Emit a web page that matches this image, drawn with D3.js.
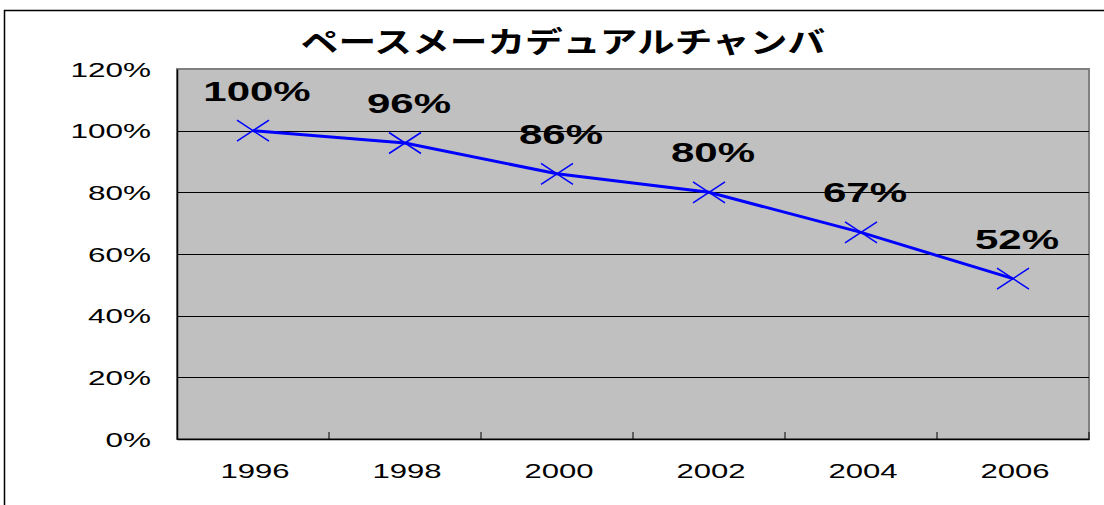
<!DOCTYPE html>
<html><head><meta charset="utf-8">
<script src="https://cdn.jsdelivr.net/npm/d3@7"></script>
<style>body{margin:0;background:#fff}svg{display:block}</style>
</head><body>
<script>
const title = "ペースメーカデュアルチャンバ";
const years = ["1996","1998","2000","2002","2004","2006"];
const values = [100, 96, 86, 80, 67, 52];
const yTicks = [0, 20, 40, 60, 80, 100, 120];

const W = 1104, H = 505;
const m = {left: 177, top: 69, right: 1089, bottom: 439};
const svg = d3.select("body").append("svg").attr("width", W).attr("height", H);
const FONT = "Liberation Sans, Arial, sans-serif";

function stext(g, x, y, str, opts) {
  return g.append("text")
    .attr("transform", `translate(${x},${y}) scale(${opts.sx},1)`)
    .attr("text-anchor", opts.anchor || "middle")
    .attr("font-family", opts.family || FONT)
    .attr("font-weight", opts.weight || "normal")
    .attr("font-size", opts.size)
    .attr("fill", "#000")
    .text(str);
}

// outer frame
svg.append("rect").attr("x", 4.5).attr("y", 10.5).attr("width", 1200).attr("height", 600)
  .attr("fill", "#fff").attr("stroke", "#000").attr("stroke-width", 1.5);

const x = d3.scaleBand().domain(years).range([m.left, m.right]);
const y = d3.scaleLinear().domain([0, 120]).range([m.bottom, m.top]);

// plot area
svg.append("rect").attr("x", m.left).attr("y", m.top).attr("width", m.right - m.left).attr("height", m.bottom - m.top)
  .attr("fill", "#c0c0c0").attr("stroke", "#808080").attr("stroke-width", 2);

// gridlines
svg.append("g").selectAll("line").data(yTicks.filter(d => d > 0 && d < 120)).join("line")
  .attr("x1", m.left).attr("x2", m.right).attr("y1", d => Math.round(y(d)) + 0.5).attr("y2", d => Math.round(y(d)) + 0.5)
  .attr("stroke", "#000").attr("stroke-width", 1);

// y axis line + labels
const gy = svg.append("g").attr("transform", `translate(${m.left},0)`)
  .call(d3.axisLeft(y).tickValues(yTicks).tickSize(0).tickFormat(""));
gy.select(".domain").attr("stroke", "#000").attr("stroke-width", 1.5);
const gyl = svg.append("g");
yTicks.forEach(t => stext(gyl, 151, y(t) + 7.5, t + "%", {sx: 1.5, size: 21, anchor: "end"}));

// x axis line + labels
const gx = svg.append("g").attr("transform", `translate(0,${m.bottom})`)
  .call(d3.axisBottom(x).tickSize(0).tickFormat(""));
gx.select(".domain").attr("stroke", "#000").attr("stroke-width", 1.5);
const cx = d => x(d) + x.bandwidth() / 2;
const gxl = svg.append("g");
years.forEach(yr => stext(gxl, cx(yr) + 2, 478, yr, {sx: 1.48, size: 21}));

// category dividers ticks
svg.append("g").selectAll("line").data(years).join("line")
  .attr("x1", d => x(d) + x.step()).attr("x2", d => x(d) + x.step())
  .attr("y1", m.bottom - 7).attr("y2", m.bottom).attr("stroke", "#000").attr("stroke-width", 1);

// line
const line = d3.line().x((d, i) => cx(years[i])).y(d => y(d));
svg.append("path").datum(values).attr("d", line).attr("fill", "none").attr("stroke", "#0000ff").attr("stroke-width", 3);

// markers
svg.append("g").selectAll("path").data(values).join("path")
  .attr("d", (d, i) => {
    const px = cx(years[i]), py = y(d);
    return `M${px-16},${py-10.5}L${px+16},${py+10.5}M${px-16},${py+10.5}L${px+16},${py-10.5}`;
  })
  .attr("stroke", "#0000ff").attr("stroke-width", 1.5).attr("fill", "none");

// data labels
const gdl = svg.append("g");
values.forEach((v, i) => stext(gdl, cx(years[i]) + 4, y(v) - 30, v + "%", {sx: 1.5, size: 28, weight: "bold"}));

// title
stext(svg, 563, 53, title, {sx: 1.3, size: 29, weight: "bold", family: "Noto Sans CJK JP, sans-serif"});
</script>
</body></html>
